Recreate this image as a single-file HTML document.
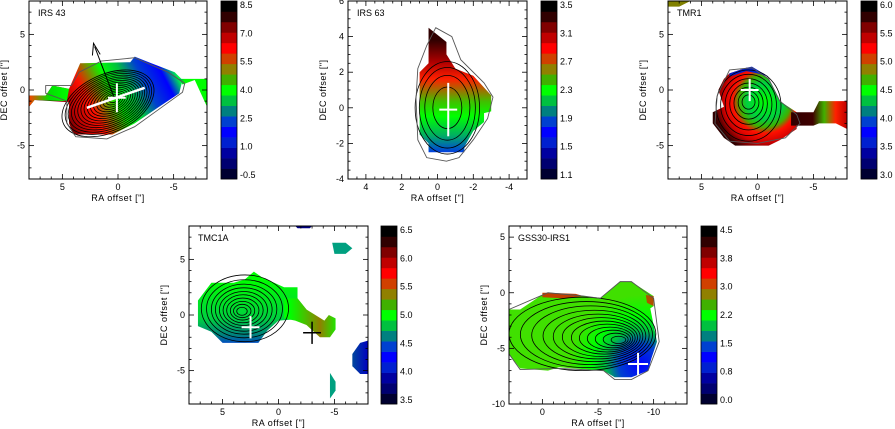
<!DOCTYPE html>
<html><head><meta charset="utf-8">
<style>
html,body{margin:0;padding:0;background:#fff;}
svg{display:block;font-family:"Liberation Sans",sans-serif;}
</style></head>
<body>
<svg id="fig" width="895" height="429" viewBox="0 0 895 429" xmlns="http://www.w3.org/2000/svg">
<defs>
<linearGradient id="g1" gradientUnits="userSpaceOnUse" x1="60" y1="130" x2="175" y2="70">
<stop offset="0" stop-color="#300000"/><stop offset="0.15" stop-color="#b00000"/><stop offset="0.3" stop-color="#ff1000"/><stop offset="0.5" stop-color="#00ff00"/><stop offset="0.62" stop-color="#00c040"/><stop offset="0.75" stop-color="#0040d0"/><stop offset="0.9" stop-color="#0000ff"/><stop offset="1" stop-color="#00ff40"/></linearGradient>
<linearGradient id="g1s" gradientUnits="userSpaceOnUse" x1="29" y1="0" x2="70" y2="0">
<stop offset="0" stop-color="#ff4000"/><stop offset="0.5" stop-color="#00e000"/><stop offset="1" stop-color="#00ff00"/></linearGradient>
<linearGradient id="g1r" gradientUnits="userSpaceOnUse" x1="175" y1="0" x2="207" y2="0">
<stop offset="0" stop-color="#0040d0"/><stop offset="0.3" stop-color="#00ff00"/><stop offset="1" stop-color="#00ff00"/></linearGradient>
<linearGradient id="g2" gradientUnits="userSpaceOnUse" x1="0" y1="40" x2="0" y2="152">
<stop offset="0" stop-color="#300000"/><stop offset="0.2" stop-color="#b00000"/><stop offset="0.35" stop-color="#ff2000"/><stop offset="0.55" stop-color="#40c000"/><stop offset="0.68" stop-color="#00ff00"/><stop offset="0.85" stop-color="#00b060"/><stop offset="1" stop-color="#0040e0"/></linearGradient>
<radialGradient id="g3" gradientUnits="userSpaceOnUse" cx="765" cy="101" r="52">
<stop offset="0" stop-color="#00ff00"/><stop offset="0.35" stop-color="#00d040"/><stop offset="0.5" stop-color="#40b000"/><stop offset="0.62" stop-color="#ff1000"/><stop offset="0.8" stop-color="#d00000"/><stop offset="1" stop-color="#300000"/></radialGradient>
<linearGradient id="g3t" gradientUnits="userSpaceOnUse" x1="790" y1="0" x2="847" y2="0">
<stop offset="0" stop-color="#300000"/><stop offset="0.4" stop-color="#400000"/><stop offset="0.6" stop-color="#40b000"/><stop offset="0.8" stop-color="#ff2000"/><stop offset="1" stop-color="#c00000"/></linearGradient>
<linearGradient id="g4" gradientUnits="userSpaceOnUse" x1="0" y1="280" x2="0" y2="345">
<stop offset="0" stop-color="#00ff00"/><stop offset="0.6" stop-color="#00d040"/><stop offset="0.85" stop-color="#008080"/><stop offset="1" stop-color="#0040d0"/></linearGradient>
<linearGradient id="g4n" gradientUnits="userSpaceOnUse" x1="290" y1="0" x2="340" y2="0">
<stop offset="0" stop-color="#00ff00"/><stop offset="0.6" stop-color="#908000"/><stop offset="1" stop-color="#00ff00"/></linearGradient>
<linearGradient id="g4b" gradientUnits="userSpaceOnUse" x1="340" y1="0" x2="368" y2="0">
<stop offset="0" stop-color="#008080"/><stop offset="1" stop-color="#0000c0"/></linearGradient>
<radialGradient id="g5" gradientUnits="userSpaceOnUse" cx="640" cy="365" r="70">
<stop offset="0" stop-color="#0000ff"/><stop offset="0.3" stop-color="#0040d0"/><stop offset="0.5" stop-color="#00c040"/><stop offset="0.7" stop-color="#00ff00"/><stop offset="1" stop-color="#40e000"/></radialGradient>
</defs>
</svg>
<script>
// ---- data arrays ----
const cbColors = ['#000030','#000070','#0000a0','#0020d0','#0000ff','#0040d0','#008080','#00c040','#00ff00','#40b000','#908000','#d04000','#ff0000','#c00000','#800000','#300000','#000000'];
const cbLabels1 = ['-0.5','1.0','2.5','4.0','5.5','7.0','8.5'];
const cbLabels2 = ['1.1','1.5','1.9','2.3','2.7','3.1','3.5'];
const cbLabels3 = ['3.0','3.5','4.0','4.5','5.0','5.5','6.0'];
const cbLabels4 = ['3.5','4.0','4.5','5.0','5.5','6.0','6.5'];
const cbLabels5 = ['0.0','0.8','1.5','2.2','3.0','3.8','4.5'];
const xTicks1 = [5,0,-5], yTicks1 = [-5,0,5];
const xTicks2 = [4,2,0,-2,-4], yTicks2 = [-4,-2,0,2,4,6];
const xTicks5 = [0,-5,-10], yTicks5 = [-10,-5,0,5];
const levels1 = [0.1,0.16,0.22,0.28,0.34,0.4,0.46,0.52,0.58,0.64,0.7,0.76,0.82,0.88,0.94,1.0];
const levels2 = [0.45,0.7,0.87,1.0];
const levels3 = [0.2,0.32,0.45,0.58,0.72,0.86,1.0];
const levels4 = [0.12,0.2,0.28,0.37,0.46,0.55,0.65,0.75,0.87,1.0];
const levels5 = [0.1,0.17,0.24,0.31,0.38,0.45,0.53,0.61,0.7,0.8,0.9,1.0];

const NS='http://www.w3.org/2000/svg';
const svg=document.getElementById('fig');
function el(tag,attrs,parent){const e=document.createElementNS(NS,tag);for(const k in attrs)e.setAttribute(k,attrs[k]);(parent||svg).appendChild(e);return e;}

function panel(p){
  const g=el('g',{});
  
  
  p.sx=v=>p.x+(p.xr[0]-v)/(p.xr[0]-p.xr[1])*p.w;
  p.sy=v=>p.y+(p.yr[1]-v)/(p.yr[1]-p.yr[0])*p.h;
  const clip=el('clipPath',{id:'c'+p.id},g);el('rect',{x:p.x,y:p.y,width:p.w,height:p.h},clip);
  const plot=el('g',{'clip-path':'url(#c'+p.id+')'},g);
  p.plot=plot;
  p.regions.forEach(r=>{
    const pts=r.pts.map(q=>p.sx(q[0])+','+p.sy(q[1])).join(' ');
    const poly=el('polygon',{points:pts,fill:r.fill},plot);
    
    
  });
  const c=p.cont;
  c.levels.forEach(l=>{
    const cx=p.sx(c.cx+(c.shift||0)*l), cy=p.sy(c.cy+(c.shiftY||0)*l);
    const e=el('ellipse',{cx:cx,cy:cy,rx:c.rx*l*p.w/Math.abs(p.xr[0]-p.xr[1]),ry:c.ry*l*p.h/(p.yr[1]-p.yr[0]),fill:'none',stroke:'#000','stroke-width':0.8,transform:'rotate('+(c.rot||0)+' '+cx+' '+cy+')'},plot);
    
    
  });
  if(p.outer){const o=el('path',{d:p.outer.map((q,i)=>(i?'L':'M')+p.sx(q[0])+' '+p.sy(q[1])).join(' ')+'Z',fill:'none',stroke:'#555','stroke-width':0.9},plot);
    
    }
  if(p.marks)p.marks(p);
  const fr=el('rect',{x:p.x,y:p.y,width:p.w,height:p.h,fill:'none',stroke:'#000','stroke-width':1},g);
  
  
  const lo=Math.min(...p.xr),hi=Math.max(...p.xr);
  for(let v=Math.ceil(lo/p.mx)*p.mx;v<=hi+1e-9;v+=p.mx){const X=p.sx(v);const maj=Math.abs(v/p.Mx-Math.round(v/p.Mx))<1e-6;const L=maj?5:2.5;
    el('line',{x1:X,x2:X,y1:p.y+p.h,y2:p.y+p.h-L,stroke:'#000','stroke-width':0.8},g);el('line',{x1:X,x2:X,y1:p.y,y2:p.y+L,stroke:'#000','stroke-width':0.8},g);}
  for(let v=Math.ceil(p.yr[0]/p.my)*p.my;v<=p.yr[1]+1e-9;v+=p.my){const Y=p.sy(v);const maj=Math.abs(v/p.My-Math.round(v/p.My))<1e-6;const L=maj?5:2.5;
    el('line',{y1:Y,y2:Y,x1:p.x,x2:p.x+L,stroke:'#000','stroke-width':0.8},g);el('line',{y1:Y,y2:Y,x1:p.x+p.w,x2:p.x+p.w-L,stroke:'#000','stroke-width':0.8},g);}
  p.xt.forEach(v=>{const t=el('text',{x:p.sx(v),y:p.y+p.h+11,'font-size':9,'text-anchor':'middle'},g);t.textContent=String(v);
    
    });
  p.yt.forEach(v=>{const t=el('text',{x:p.x-4,y:p.sy(v)+3,'font-size':9,'text-anchor':'end'},g);t.textContent=String(v);
    
    });
  const xl=el('text',{x:p.x+p.w/2,y:p.y+p.h+22,'font-size':9,'text-anchor':'middle','letter-spacing':'0.5'},g);xl.textContent='RA offset ["]';
  
  
  const yx=p.x-22, yy=p.y+p.h/2;
  const yl=el('text',{x:yx,y:yy,'font-size':9,'text-anchor':'middle','letter-spacing':'0.5',transform:'rotate(-90 '+yx+' '+yy+')'},g);yl.textContent='DEC offset ["]';
  
  
  const tt=el('text',{x:p.x+9,y:p.y+15,'font-size':9},g);tt.textContent=p.title;
  
  
  const cb=el('g',{},g);
  
  
  const n=cbColors.length,bh=p.h/n;
  cbColors.forEach((col,i)=>{el('rect',{x:p.cbx,y:p.y+p.h-(i+1)*bh,width:16,height:bh+0.3,fill:col},cb);});
  el('rect',{x:p.cbx,y:p.y,width:16,height:p.h,fill:'none',stroke:'#000','stroke-width':0.8},cb);
  p.cb.forEach((lab,i)=>{const Y=p.y+p.h-4-i*(p.h-8)/(p.cb.length-1);const t=el('text',{x:p.cbx+19,y:Y+3,'font-size':9},cb);t.textContent=lab;
    
    });
}
function cross(p,x,y,a,b,col,w){el('line',{x1:p.sx(x),x2:p.sx(x),y1:p.sy(y+b),y2:p.sy(y-b),stroke:col,'stroke-width':w||1.5},p.plot);el('line',{x1:p.sx(x+a),x2:p.sx(x-a),y1:p.sy(y),y2:p.sy(y),stroke:col,'stroke-width':w||1.5},p.plot);}

panel({id:1,name:'irs43-panel',title:'IRS 43',x:29,y:1,w:178,h:178,xr:[8,-8],yr:[-8,8],mx:1,Mx:5,my:1,My:5,xt:xTicks1,yt:yTicks1,cbx:221,cb:cbLabels1,
 regions:[
  {pts:[[8,-1.5],[8,-0.5],[6.5,-0.5],[5.9,0.4],[4.4,0.1],[3.4,2.4],[-1.1,2.5],[-1.5,3],[-3,2.4],[-5.1,1.6],[-5.8,0.9],[-5.5,-0.3],[-3.7,-1.5],[-1.5,-3],[0.5,-4],[4,-4],[4.4,-3],[4.4,-1.1],[7.5,-0.9]],fill:'url(#g1)'},
  {pts:[[8,-1.5],[8,-0.5],[6.5,-0.5],[5.9,0.4],[4.4,0.1],[4.6,-1],[7.5,-0.9]],fill:'url(#g1s)'},
  {pts:[[-5.5,1],[-8,1],[-8,-1.5],[-6.9,0.9],[-5.8,0.5]],fill:'url(#g1r)'}],
 cont:{cx:0.3,cy:-0.8,rx:4.4,ry:2.6,rot:-25,levels:levels1,shift:0.6,shiftY:-0.4},
 outer:[[4.6,-3],[3.8,-4.2],[1,-4.4],[-1.5,-3.3],[-4,-1.5],[-5.8,-0.2],[-6,0.6],[-4.5,1.6],[-1.5,2.9],[1.5,2.6],[3.5,1.6],[4.2,0.4],[6.5,0.4],[6.5,-0.3],[4.6,-1]],
 marks:p=>{el('line',{x1:p.sx(0.3),y1:p.sy(-0.8),x2:p.sx(2.1),y2:p.sy(3.9),stroke:'#000','stroke-width':1},p.plot);
  el('polyline',{points:[[1.6,3.2],[2.2,4.2],[2.3,3.1]].map(q=>p.sx(q[0])+','+p.sy(q[1])).join(' '),fill:'none',stroke:'#000','stroke-width':1},p.plot);
  el('line',{x1:p.sx(2.8),y1:p.sy(-1.6),x2:p.sx(-2.4),y2:p.sy(0.2),stroke:'#fff','stroke-width':2.5},p.plot);
  cross(p,0.1,-0.7,0.8,1.3,'#fff',2);}
});
panel({id:2,name:'irs63-panel',title:'IRS 63',x:348,y:1,w:179,h:178,xr:[5,-5],yr:[-4,6],mx:0.5,Mx:2,my:0.5,My:2,xt:xTicks2,yt:yTicks2,cbx:541,cb:cbLabels2,
 regions:[{pts:[[0.5,4.5],[-0.5,3.7],[-0.5,3],[-1,2.2],[-2,1.8],[-3,0.7],[-3,-0.2],[-2.6,-0.3],[-2.6,-0.8],[-2,-1.3],[-1.5,-2.2],[-1.5,-2.5],[0.5,-2.5],[0.5,-2],[1,-1.5],[1,2],[0.5,2.5],[0.5,3.6]],fill:'url(#g2)'}],
 cont:{cx:-0.55,cy:0,rx:1.8,ry:2.6,levels:levels2,shiftY:0},
 outer:[[0.1,4.5],[-0.8,4],[-1.3,2.7],[-2.6,1.4],[-3.1,0.6],[-2.8,-0.6],[-2,-1.8],[-1.2,-2.8],[-0.5,-3],[0.6,-2.8],[1.1,-1.8],[1.2,0.5],[1.1,2.2],[0.6,3.5]],
 marks:p=>{cross(p,-0.6,-0.1,0.5,1.5,'#fff',2);}
});
panel({id:3,name:'tmr1-panel',title:'TMR1',x:668,y:1,w:179,h:178,xr:[8,-8],yr:[-8,8],mx:1,Mx:5,my:1,My:5,xt:xTicks1,yt:yTicks1,cbx:861,cb:cbLabels3,
 regions:[
  {pts:[[2.5,1.5],[1,2],[0,1.8],[-1,1],[-1.5,0],[-2,-1],[-3.5,-2],[-3.5,-3.5],[-2,-4.5],[-1,-5],[2,-5],[3,-4.3],[4,-3],[4,-2],[3,-1.5],[3.5,0],[3,1]],fill:'url(#g3)'},
  {pts:[[2.5,1.5],[1,2],[0.5,2.1],[-1,1.2],[0,1.5],[1,1.7],[2.5,1.2]],fill:'#0020d0'},
  {pts:[[-3,-2],[-5,-2],[-5.5,-1],[-8,-1],[-8,-3.5],[-7,-3],[-5.5,-3],[-5,-3.2],[-3,-3.2]],fill:'url(#g3t)'},
  {pts:[[8,8],[6,8],[7,7.5],[8,7.5]],fill:'#808000'}],
 cont:{cx:0.8,cy:-1.0,rx:2.9,ry:3.2,levels:levels3,shift:0,shiftY:-0.4},
 outer:[[2.5,1.8],[0.5,2],[-1,1],[-2,-1],[-3.5,-2.2],[-3.8,-3],[-2.5,-4.3],[0,-4.8],[2.5,-4.6],[3.8,-3],[3.6,-0.5]],
 marks:p=>{cross(p,0.7,0,0.8,1,'#fff',2);}
});
panel({id:4,name:'tmc1a-panel',title:'TMC1A',x:189,y:226,w:179,h:178,xr:[8,-8],yr:[-8,8],mx:1,Mx:5,my:1,My:5,xt:xTicks1,yt:yTicks1,cbx:381,cb:cbLabels4,
 regions:[
  {pts:[[7.2,1.3],[6,2.9],[4,2.9],[3,3.2],[2.2,3.9],[1.5,3.4],[-0.5,2.5],[-1.7,2.5],[-1.7,1.5],[-2.5,0.5],[-2.6,-0.3],[0,-0.5],[1,-1.4],[1.8,-2.5],[5,-2.5],[6,-1.5],[7.2,-1]],fill:'url(#g4)'},
  {pts:[[-1.7,1.5],[-2.5,0.5],[-4.1,-0.5],[-4.5,0],[-5.1,-0.3],[-5.1,-1.3],[-4.6,-2],[-3.7,-2],[-2.5,-0.9],[-1.5,-0.5],[-0.5,-0.3],[-0.5,1.5]],fill:'url(#g4n)'},
  {pts:[[-4.8,6.5],[-6,6.5],[-6.6,6],[-6,5.5],[-5,5.5]],fill:'#00a080'},
  {pts:[[-8,-2.3],[-7.3,-2.5],[-6.6,-3.5],[-6.6,-4.6],[-7.3,-5.3],[-8,-5.3]],fill:'url(#g4b)'},
  {pts:[[-4.6,-5.2],[-5.1,-6],[-5.1,-6.8],[-4.6,-7.5]],fill:'#00a080'},
  {pts:[[-1.5,8],[-3,8],[-2.8,7.8],[-1.7,7.8]],fill:'#000080'}],
 cont:{cx:3.3,cy:0.3,rx:3.9,ry:3.0,levels:levels4,shift:-0.3,shiftY:0.3},
 marks:p=>{cross(p,2.5,-1.1,0.8,1,'#fff',2);cross(p,-3,-1.6,0.8,1,'#000',1.5);}
});
panel({id:5,name:'gss30-irs1-panel',title:'GSS30-IRS1',x:509,y:226,w:178,h:178,xr:[3,-13],yr:[-10,6],mx:1,Mx:5,my:1,My:5,xt:xTicks5,yt:yTicks5,cbx:701,cb:cbLabels5,
 regions:[
  {pts:[[3,-1.5],[2,-1.5],[0.2,-0.3],[-0.5,0],[-3.7,-0.3],[-5.2,-0.5],[-7,1],[-8,1],[-10,-0.3],[-10,-1.2],[-9.7,-1.4],[-10.3,-4.4],[-9.8,-5.9],[-9.5,-7],[-8,-7.6],[-6.5,-7.6],[-5.5,-7],[-1.5,-6.7],[-0.5,-7],[2,-6.8],[3,-5.5]],fill:'url(#g5)'},
  {pts:[[0,0],[-0.5,0],[-3,-0.1],[-3.7,-0.3],[-2,-0.5],[0,-0.4]],fill:'#c04000'},
  {pts:[[-9.3,-0.2],[-10,-0.3],[-10,-1.2],[-9.4,-0.9]],fill:'#b05000'}],
 cont:{cx:-7.2,cy:-4.3,rx:6.6,ry:3.3,levels:levels5,shift:3.6,shiftY:0.6},
 outer:[[3,-1.5],[0.2,-0.3],[-0.5,0],[-3.7,-0.3],[-5.2,-0.5],[-7,1],[-8,1],[-10,-0.5],[-10.5,-4.4],[-9.5,-7],[-8,-7.8],[-6.5,-7.8],[-5.5,-7],[-1.5,-6.8],[2,-6.9],[3,-5.5]],
 marks:p=>{cross(p,-8.6,-6.4,0.9,1,'#fff',2);}
});
</script>
</body></html>
